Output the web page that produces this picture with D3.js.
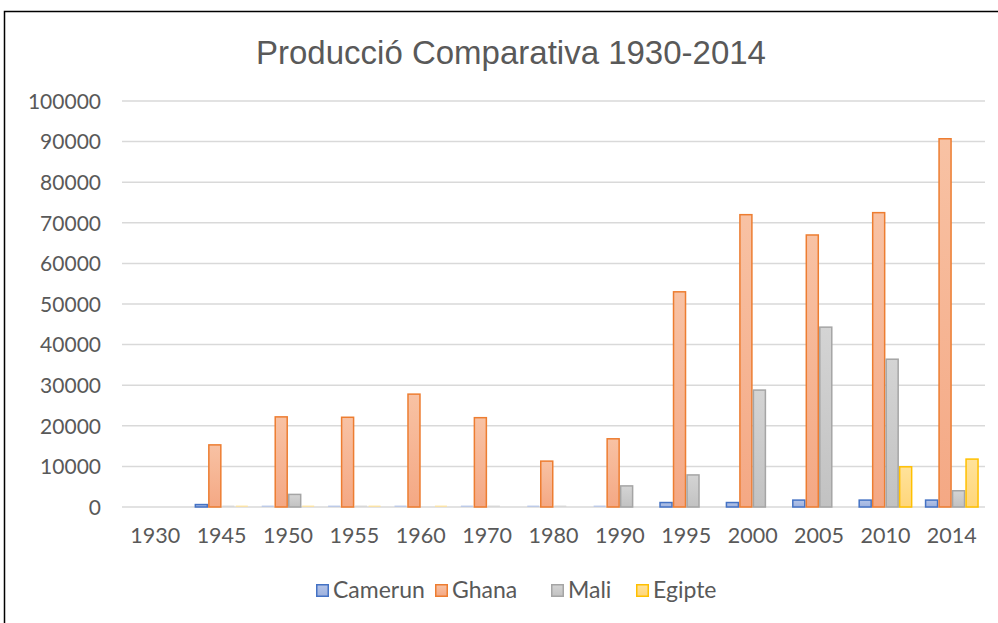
<!DOCTYPE html>
<html>
<head>
<meta charset="utf-8">
<script src="https://cdn.jsdelivr.net/npm/d3@7"></script>
<style>
  html, body { margin: 0; padding: 0; background: #fff; }
  svg { display: block; }
</style>
</head>
<body>
<svg id="chart" width="998" height="623"></svg>
<script>
// Production by country and year
const years = ["1930", "1945", "1950", "1955", "1960", "1970", "1980", "1990", "1995", "2000", "2005", "2010", "2014"];
const seriesNames = ["Camerun", "Ghana", "Mali", "Egipte"];
const camerun = [0, 600, 400, 100, 100, 100, 100, 100, 1100, 1100, 1700, 1700, 1700];
const ghana   = [0, 15300, 22200, 22100, 27800, 22000, 11300, 16800, 53000, 72000, 67000, 72500, 90700];
const mali    = [0, 100, 3100, 100, 0, 100, 100, 5200, 7900, 28800, 44300, 36400, 4000];
const egipte  = [0, 100, 400, 300, 100, 0, 0, 0, 0, 0, 0, 9900, 11800];
const yTicks  = [0, 10000, 20000, 30000, 40000, 50000, 60000, 70000, 80000, 90000, 100000];

const seriesValues = [camerun, ghana, mali, egipte];
const strokeColors = ["#4472C4", "#ED7D31", "#A5A5A5", "#FFC000"];
const fillTop      = ["#B4C4E8", "#F8C2A4", "#D4D4D4", "#FFE29A"];
const fillBottom   = ["#9DB1DE", "#F4A884", "#C2C2C2", "#FFD67A"];

const svg = d3.select("#chart");

// Outer chart frame
svg.append("rect")
  .attr("x", 4.5).attr("y", 11.5)
  .attr("width", 1100).attr("height", 700)
  .attr("fill", "none").attr("stroke", "#000").attr("stroke-width", 1.5);

// Gradients for bar fills
const defs = svg.append("defs");
seriesNames.forEach((name, i) => {
  const g = defs.append("linearGradient")
    .attr("id", "grad" + i)
    .attr("x1", 0).attr("y1", 0).attr("x2", 0).attr("y2", 1);
  g.append("stop").attr("offset", "0%").attr("stop-color", fillTop[i]);
  g.append("stop").attr("offset", "100%").attr("stop-color", fillBottom[i]);
});

const plot = { left: 122, right: 985, top: 101, bottom: 507 };

const x0 = d3.scaleBand().domain(years).range([plot.left, plot.right]).paddingInner(0.187).paddingOuter(0.0935);
const x1 = d3.scaleBand().domain(seriesNames).range([0, x0.bandwidth()]);
const y = d3.scaleLinear().domain([0, 100000]).range([plot.bottom, plot.top]);

// Title
svg.append("text")
  .attr("x", 511).attr("y", 64)
  .attr("text-anchor", "middle")
  .attr("font-family", "'Liberation Sans', Arial, sans-serif")
  .attr("font-size", 33)
  .attr("fill", "#595959")
  .text("Producció Comparativa 1930-2014");

// Gridlines
svg.append("g")
  .selectAll("line")
  .data(yTicks)
  .join("line")
  .attr("x1", plot.left).attr("x2", plot.right)
  .attr("y1", d => y(d)).attr("y2", d => y(d))
  .attr("stroke", "#D9D9D9").attr("stroke-width", 1.5);

// Y axis labels
const yAxis = d3.axisLeft(y).tickValues(yTicks).tickSize(0).tickPadding(0).tickFormat(d3.format("d"));
const yg = svg.append("g").attr("transform", `translate(${plot.left - 21},0)`).call(yAxis);
yg.select(".domain").remove();
yg.selectAll("text")
  .attr("font-family", "Lato, sans-serif")
  .attr("font-size", 21)
  .attr("fill", "#595959")
  .attr("dy", "0.35em");

// X axis labels
const xAxis = d3.axisBottom(x0).tickSize(0).tickPadding(0);
const xg = svg.append("g").attr("transform", `translate(0,${plot.bottom + 21})`).call(xAxis);
xg.select(".domain").remove();
xg.selectAll("text")
  .attr("font-family", "Lato, sans-serif")
  .attr("font-size", 21.5)
  .attr("fill", "#595959")
  .attr("dy", "0.71em");

// Bars
const groups = svg.append("g")
  .selectAll("g")
  .data(years)
  .join("g")
  .attr("transform", d => `translate(${x0(d)},0)`);

groups.selectAll("rect")
  .data((yr, j) => seriesNames.map((s, i) => ({ s, i, v: seriesValues[i][j] })))
  .join("rect")
  .filter(d => d.v > 0)
  .each(function (d) {
    const h = plot.bottom - y(d.v);
    const r = d3.select(this)
      .attr("x", x1(d.s) + 0.75)
      .attr("width", x1.bandwidth() - 1.5)
      .attr("fill", `url(#grad${d.i})`);
    if (h >= 2) {
      r.attr("y", y(d.v)).attr("height", h)
        .attr("stroke", strokeColors[d.i]).attr("stroke-width", 1.5);
    } else {
      r.attr("y", plot.bottom - 1.5).attr("height", 1.5)
        .attr("fill", fillTop[d.i]).attr("fill-opacity", 0.8);
    }
  });

// Legend
const legendItems = [
  { name: "Camerun", x: 316 },
  { name: "Ghana", x: 435 },
  { name: "Mali", x: 551 },
  { name: "Egipte", x: 636 }
];
const lg = svg.append("g");
legendItems.forEach((it, i) => {
  lg.append("rect")
    .attr("x", it.x + 0.75).attr("y", 584.75)
    .attr("width", 11.5).attr("height", 11.5)
    .attr("fill", `url(#grad${i})`)
    .attr("stroke", strokeColors[i]).attr("stroke-width", 1.5);
  lg.append("text")
    .attr("x", it.x + 17).attr("y", 598)
    .attr("font-family", "Lato, sans-serif")
    .attr("font-size", 23)
    .attr("fill", "#595959")
    .text(it.name);
});
</script>
</body>
</html>
